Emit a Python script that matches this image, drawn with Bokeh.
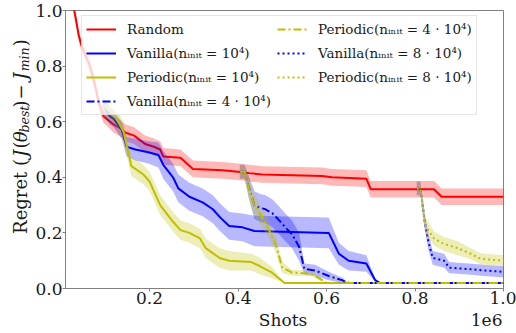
import math
from bokeh.plotting import figure
from bokeh.layouts import column, row
from bokeh.models import (Range1d, FixedTicker, CustomJSTickFormatter, Legend,
                          LegendItem, Label, Grid)
from bokeh.embed import file_html
from bokeh.resources import INLINE

# ---------------- data (shots, regret, std) ----------------
random_x = [10000, 31000, 40000, 45000, 52000, 63000, 74000, 85000, 96000, 103000,
            119000, 130000, 146000, 165000, 190000, 210000, 224000, 231000, 270000,
            298000, 365000, 400000, 425000, 455000, 590000, 612000, 690000, 700000,
            843000, 860000, 1000000]
random_y = [1.15, 0.99, 0.91, 0.88, 0.85, 0.81, 0.75, 0.67, 0.62, 0.61,
            0.59, 0.58, 0.56, 0.55, 0.52, 0.51, 0.50, 0.475, 0.47,
            0.43, 0.425, 0.42, 0.415, 0.41, 0.405, 0.40, 0.395, 0.357,
            0.357, 0.33, 0.33]
random_s = [0.02] * 5 + [0.025] * 5 + [0.03] * 21

van1_x = [95000, 110000, 119000, 137000, 148000, 168000, 197000, 220000, 231000,
          253000, 265000, 290000, 320000, 343000, 360000, 380000, 410000, 437000,
          605000, 628000, 650000, 690000, 710000, 720000, 1000000]
van1_y = [0.66, 0.62, 0.61, 0.57, 0.51, 0.50, 0.49, 0.48, 0.445,
          0.40, 0.36, 0.33, 0.31, 0.285, 0.255, 0.225, 0.22, 0.207,
          0.20, 0.125, 0.10, 0.09, 0.03, 0.02, 0.02]
van1_s = [0.03, 0.03, 0.03, 0.03, 0.035, 0.04, 0.04, 0.045, 0.05,
          0.05, 0.05, 0.05, 0.05, 0.05, 0.05, 0.05, 0.05, 0.055,
          0.055, 0.04, 0.035, 0.03, 0.005, 0.0, 0.0]

per1_x = [95000, 113000, 126000, 141000, 159000, 186000, 200000, 224000, 253000,
          270000, 290000, 314000, 327000, 358000, 380000, 430000, 450000, 477000,
          505000, 1000000]
per1_y = [0.66, 0.63, 0.61, 0.565, 0.44, 0.41, 0.385, 0.30, 0.24,
          0.21, 0.20, 0.18, 0.145, 0.11, 0.10, 0.095, 0.08, 0.057,
          0.02, 0.02]
per1_s = [0.03, 0.03, 0.03, 0.035, 0.035, 0.035, 0.035, 0.035, 0.035,
          0.035, 0.035, 0.035, 0.035, 0.035, 0.035, 0.03, 0.03, 0.02,
          0.0, 0.0]

van4_x = [404000, 415000, 425000, 437000, 450000, 462000, 478000, 493000, 507000,
          522000, 538000, 550000, 574000, 605000, 635000, 650000, 1000000]
van4_y = [0.42, 0.42, 0.36, 0.30, 0.29, 0.285, 0.27, 0.245, 0.22,
          0.195, 0.15, 0.07, 0.065, 0.045, 0.03, 0.02, 0.02]
van4_s = [0.025, 0.025, 0.04, 0.05, 0.05, 0.05, 0.05, 0.05, 0.05,
          0.05, 0.05, 0.02, 0.02, 0.015, 0.01, 0.0, 0.0]

per4_x = [404000, 415000, 426000, 437000, 455000, 470000, 485000, 500000, 522000,
          567000, 590000, 600000, 1000000]
per4_y = [0.42, 0.42, 0.35, 0.30, 0.255, 0.21, 0.16, 0.075, 0.057,
          0.053, 0.03, 0.02, 0.02]
per4_s = [0.025, 0.025, 0.04, 0.04, 0.035, 0.03, 0.03, 0.02, 0.01,
          0.01, 0.005, 0.0, 0.0]

van8_x = [804000, 812000, 818000, 822000, 830000, 840000, 866000, 877000, 920000,
          955000, 1000000]
van8_y = [0.36, 0.36, 0.29, 0.24, 0.17, 0.11, 0.10, 0.075, 0.07, 0.065, 0.06]
van8_s = [0.025, 0.025, 0.03, 0.03, 0.03, 0.025, 0.025, 0.02, 0.02, 0.02, 0.02]

per8_x = [804000, 812000, 818000, 823000, 830000, 843000, 866000, 897000, 926000,
          948000, 1000000]
per8_y = [0.36, 0.36, 0.29, 0.23, 0.21, 0.18, 0.16, 0.145, 0.125, 0.107, 0.10]
per8_s = [0.025, 0.025, 0.03, 0.03, 0.03, 0.025, 0.025, 0.025, 0.02, 0.02, 0.02]

labels = ["Random",
          "Vanilla(nᵢₙᵢₜ = 10⁴)",
          "Periodic(nᵢₙᵢₜ = 10⁴)",
          "Vanilla(nᵢₙᵢₜ = 4 · 10⁴)",
          "Periodic(nᵢₙᵢₜ = 4 · 10⁴)",
          "Vanilla(nᵢₙᵢₜ = 8 · 10⁴)",
          "Periodic(nᵢₙᵢₜ = 8 · 10⁴)"]
x_ticks = [200000, 400000, 600000, 800000, 1000000]
y_ticks = [0.0, 0.2, 0.4, 0.6, 0.8, 1.0]
x_label = "Shots"
x_offset_label = "1e6"
# y label pieces: (text, italic, subscript, advance width in px)
ylabel_parts = [("Regret (", False, False, 86.0), ("J", True, False, 9.5),
                ("(", False, False, 7.0), ("θ", True, False, 10.8),
                ("best", True, True, 28.0), (")", False, False, 9.0),
                ("−", False, False, 22.0), ("J", True, False, 9.5),
                ("min", True, True, 28.0), (")", False, False, 8.0)]

# ---------------- layout constants ----------------
FONT = "DejaVu Serif"
TXT = "#1a1a1a"
SPINE = "#808080"
TOTAL_W, TOTAL_H = 516, 333
FW, FH = 441, 278
YW = 32
BL, BR, BT, BB = 30, 13, 10, 23
MAIN_W = BL + FW + BR
MAIN_H = BT + FH + BB
XH = TOTAL_H - MAIN_H
X0, X1 = 10000, 1000000

# ---------------- main figure ----------------
p = figure(width=MAIN_W, height=MAIN_H,
           min_border_left=BL, min_border_right=BR, min_border_top=BT, min_border_bottom=BB,
           x_range=Range1d(X0, X1), y_range=Range1d(0, 1),
           output_backend="svg", toolbar_location=None)
p.grid.visible = False
p.outline_line_color = SPINE
p.outline_line_width = 1
p.background_fill_color = "white"
p.border_fill_color = "white"

for ax in (p.xaxis[0], p.yaxis[0]):
    ax.axis_line_color = SPINE
    ax.major_tick_line_color = SPINE
    ax.minor_tick_line_color = None
    ax.major_tick_out = 3
    ax.major_tick_in = 0
    ax.major_label_text_font = FONT
    ax.major_label_text_font_size = "17px"
    ax.major_label_text_color = TXT
    ax.major_label_standoff = 0

p.xaxis[0].ticker = FixedTicker(ticks=x_ticks)
p.xaxis[0].formatter = CustomJSTickFormatter(code="return (tick/1e6).toFixed(1);")
p.yaxis[0].ticker = FixedTicker(ticks=y_ticks)
p.yaxis[0].formatter = CustomJSTickFormatter(code="return tick.toFixed(1);")

series = [
    (random_x, random_y, random_s, "#ff0000", "solid"),
    (van1_x, van1_y, van1_s, "#0000ff", "solid"),
    (per1_x, per1_y, per1_s, "#bfbf00", "solid"),
    (van4_x, van4_y, van4_s, "#0000ff", "8 3 2 3"),
    (per4_x, per4_y, per4_s, "#bfbf00", "8 3 2 3"),
    (van8_x, van8_y, van8_s, "#0000ff", "2 3"),
    (per8_x, per8_y, per8_s, "#bfbf00", "2 3"),
]

items = []
for (xs, ys, ss, col, dash), lab in zip(series, labels):
    lo = [y - s for y, s in zip(ys, ss)]
    hi = [y + s for y, s in zip(ys, ss)]
    p.varea(x=xs, y1=lo, y2=hi, fill_color=col, fill_alpha=0.28)
    r = p.line(xs, ys, line_color=col, line_width=2, line_dash=dash)
    items.append(LegendItem(label=lab, renderers=[r]))

LEG_H = 100
legend = Legend(items=items, ncols=2, orientation="vertical",
                location=(16, FH - 5 - LEG_H),
                label_text_font=FONT, label_text_font_size="13.5px", label_text_color=TXT,
                glyph_width=30, glyph_height=18, label_height=18, label_standoff=11,
                spacing=6, padding=4, margin=0,
                border_line_color="#cccccc", border_line_width=1,
                background_fill_color="white", background_fill_alpha=0.8)
p.add_layout(legend, "center")


def strip(w, h):
    f = figure(width=w, height=h, x_range=Range1d(0, w), y_range=Range1d(0, h),
               min_border=0, x_axis_location=None, y_axis_location=None,
               output_backend="svg", toolbar_location=None)
    for g in f.select(type=Grid):
        g.visible = False
    f.outline_line_color = None
    f.background_fill_color = "white"
    f.border_fill_color = "white"
    return f


# ---------------- y label strip (pixel coordinates, origin bottom-left) ----------------
yf = strip(YW, MAIN_H)
total = sum(w for *_, w in ylabel_parts)
center_page = 141
pos = (MAIN_H - center_page) - total / 2
MID_X = 19.5          # centre line of the rotated main text
SUB_X = 24.0          # centre line of the rotated subscripts
for txt, ital, small, w in ylabel_parts:
    yf.add_layout(Label(x=SUB_X if small else MID_X, y=pos, text=txt, angle=math.pi / 2,
                        text_font=FONT, text_font_size="12.6px" if small else "18px",
                        text_font_style="italic" if ital else "normal",
                        text_color=TXT, text_align="left", text_baseline="middle"))
    pos += w

# ---------------- x label strip ----------------
LBL_Y = 14
xf = strip(TOTAL_W, XH)
xf.add_layout(Label(x=YW + BL + FW / 2, y=LBL_Y, text=x_label, text_font=FONT,
                    text_font_size="17px", text_color=TXT, text_align="center",
                    text_baseline="middle"))
xf.add_layout(Label(x=YW + BL + FW - 1, y=LBL_Y, text=x_offset_label, text_font=FONT,
                    text_font_size="17px", text_color=TXT, text_align="right",
                    text_baseline="middle"))

layout = column(row(yf, p), xf)
open("out.html", "w").write(file_html(layout, INLINE))
